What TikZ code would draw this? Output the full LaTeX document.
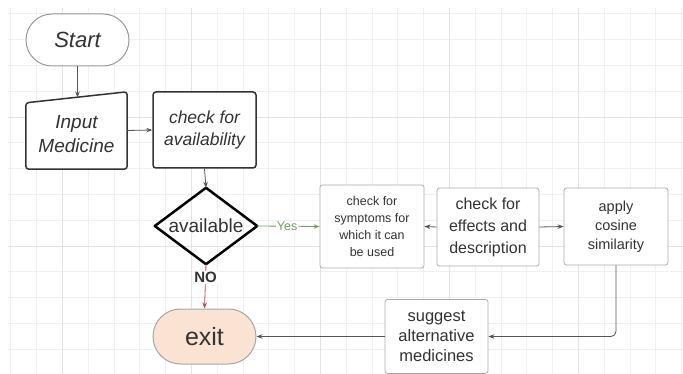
\documentclass[tikz,border=0pt]{standalone}
\usepackage{fontspec}
\setmainfont{Liberation Sans}
\usetikzlibrary{shapes.misc,arrows.meta}
\definecolor{txt}{HTML}{333333}
\definecolor{lightbd}{HTML}{AAAAAA}
\definecolor{darkbd}{HTML}{333333}
\definecolor{conn}{HTML}{555555}
\definecolor{peach}{HTML}{FBE3D3}
\definecolor{yesgreen}{HTML}{6AA84F}
\definecolor{nored}{HTML}{C0504D}
\tikzset{
  box/.style={rectangle, rounded corners=2.5pt, draw=lightbd, line width=0.8pt, fill=white, text=txt, align=center, inner sep=0pt},
  darkbox/.style={rectangle, rounded corners=3pt, draw=darkbd, line width=1.5pt, fill=white, text=txt, align=center, inner sep=0pt},
  term/.style={rounded rectangle, draw=gray!80, line width=1pt, text=txt, align=center, inner sep=0pt},
  conn/.style={draw=conn, line width=0.8pt, -{Stealth[length=6pt,width=4.5pt]}},
  minorgrid/.style={draw=black!6, line width=0.6pt},
  majorgrid/.style={draw=black!11, line width=0.8pt}
}
\begin{document}
\begin{tikzpicture}[x=1pt,y=-1pt]
\useasboundingbox (0,0) rectangle (683,374);
\fill[white] (0,0) rectangle (683,374);
% grid
\foreach \i in {0,...,26} {
  \draw[minorgrid] ({10.6+25.8*\i},8) -- ({10.6+25.8*\i},374);
}
\foreach \j in {0,...,14} {
  \draw[minorgrid] (8,{13.8+25.8*\j}) -- (683,{13.8+25.8*\j});
}
\foreach \i in {0,...,5} {
  \draw[majorgrid] ({62.2+129*\i},8) -- ({62.2+129*\i},374);
}
\foreach \j in {0,...,2} {
  \draw[majorgrid] (8,{117+129*\j}) -- (683,{117+129*\j});
}

% nodes
\node[term, fill=white, minimum width=103pt, minimum height=52pt, font=\fontsize{22}{26}\selectfont\itshape] (start) at (77.5,40) {Start};

\node[inner sep=0pt, minimum width=101pt, minimum height=77pt] (input) at (76.5,130.5) {};
\draw[draw=darkbd, line width=1.5pt, fill=white, rounded corners=3pt]
  (input.south west) -- (input.south east) -- (input.north east) -- ([yshift=-11pt]input.north west) -- cycle;
\node[text=txt, align=center, font=\fontsize{19}{24}\selectfont\itshape] at ([yshift=-4pt]input.center) {Input\\Medicine};
\coordinate (inputtop) at (77.5,97.5);

\node[darkbox, minimum width=103pt, minimum height=76pt, font=\fontsize{17.5}{22}\selectfont\itshape] (check) at (204.5,130) {check for\\availability};

\node[inner sep=0pt, minimum width=102pt, minimum height=76pt, text=txt, font=\fontsize{19}{22}\selectfont] (avail) at (206,226) {available};
\draw[black, line width=2.5pt, line join=round]
  (avail.north) -- (avail.east) -- (avail.south) -- (avail.west) -- cycle;

\node[term, fill=peach, draw=gray!70, minimum width=103pt, minimum height=55pt, font=\fontsize{25}{28}\selectfont] (exit) at (204.5,336.5) {exit};

\node[box, minimum width=104pt, minimum height=83pt, font=\fontsize{12.5}{17}\selectfont] (sym) at (372,226.5) {check for\\symptoms for\\which it can\\be used};
\node[box, minimum width=102pt, minimum height=78pt, font=\fontsize{16}{22}\selectfont] (eff) at (488,227) {check for\\effects and\\description};
\node[box, minimum width=104pt, minimum height=77pt, font=\fontsize{14.5}{19}\selectfont] (cos) at (616,226.5) {apply\\cosine\\similarity};
\node[box, minimum width=103pt, minimum height=74pt, font=\fontsize{16.5}{20}\selectfont] (sug) at (436.5,336.5) {suggest\\alternative\\medicines};

% connectors
\draw[conn] (start.south) -- (inputtop);
\draw[conn] (input.east) -- (check.west);
\draw[conn] (check.south) -- (avail.north);
\draw[conn, draw=nored] (avail.south) --
  node[pos=0.3, fill=white, inner sep=1.5pt, text=txt, font=\fontsize{15}{17}\selectfont\bfseries] {NO} (exit.north);
\draw[conn, draw=yesgreen] (avail.east) --
  node[pos=0.48, fill=white, inner sep=1pt, text=yesgreen, font=\fontsize{12.5}{14}\selectfont] {Yes} (sym.west);
\draw[conn] (eff.west) -- (sym.east);
\draw[conn] (eff.east) -- (cos.west);
\draw[conn, rounded corners=5pt] (cos.south) |- (sug.east);
\draw[conn] (sug.west) -- (exit.east);
\end{tikzpicture}
\end{document}
